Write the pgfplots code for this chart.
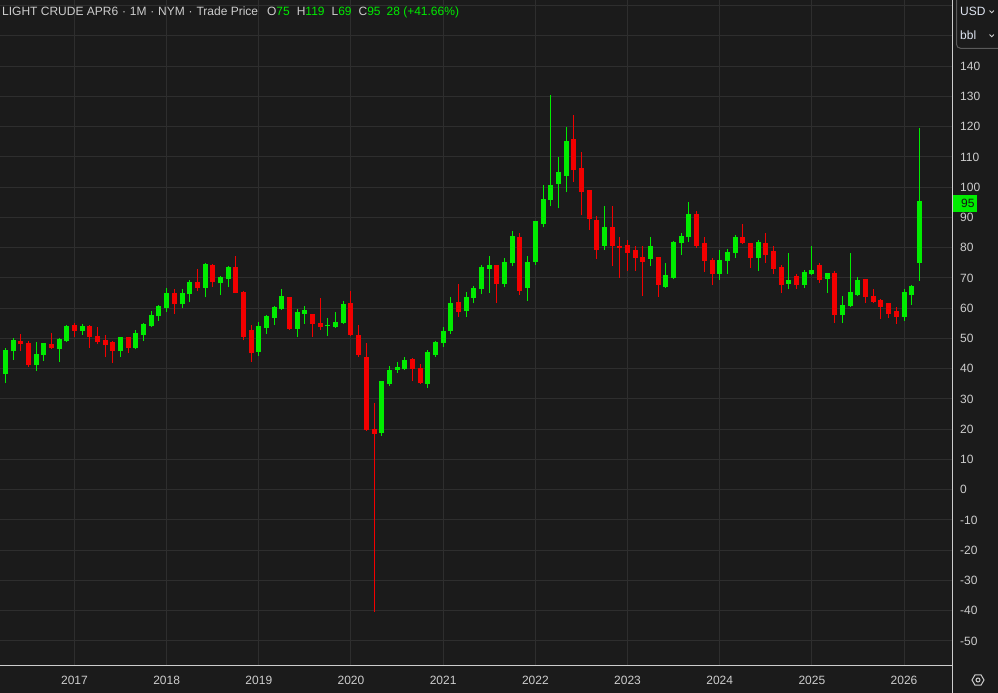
\documentclass[border=0pt]{standalone}
\usepackage{pgfplots}
\pgfplotsset{compat=1.18}
\usepackage{pgfplotstable}
\usepackage{fontspec}
\setmainfont{Liberation Sans}

\definecolor{bg}{RGB}{27,27,27}
\definecolor{gridc}{RGB}{46,46,46}
\definecolor{upg}{RGB}{0,236,0}
\definecolor{dnr}{RGB}{242,0,0}
\definecolor{txt}{RGB}{205,205,205}
\definecolor{edge}{RGB}{205,205,205}
\definecolor{boxc}{RGB}{90,90,90}

% monthly candles, m = months since Jan 2017
\pgfplotstableread{
m O H L C
-9 38.3 46.8 35.2 45.9
-8 45.7 50.2 42.9 49.2
-5 41.2 48.8 39.3 44.6
-4 44.6 48.4 42.6 48.2
-2 46.6 50.0 42.3 49.5
-1 49.0 54.5 48.9 53.9
1 52.6 54.8 51.2 53.9
6 45.8 50.4 44.0 50.2
8 46.9 52.9 46.4 51.6
9 51.3 55.1 49.2 54.5
10 54.2 59.1 53.9 57.5
11 57.3 61.0 55.9 60.4
12 60.0 66.6 58.8 64.8
14 61.3 66.4 59.9 64.8
15 64.7 69.4 61.9 68.4
17 66.8 74.8 63.6 74.2
19 68.2 70.5 64.4 69.9
20 69.5 74.0 67.0 73.4
24 45.6 55.5 44.2 53.8
25 53.5 57.9 51.5 57.1
26 56.8 60.8 54.5 60.1
27 59.8 66.4 59.4 63.8
29 53.2 59.8 50.5 58.5
30 58.1 60.8 54.8 59.1
33 54.0 56.8 50.8 54.3
34 53.8 58.8 53.6 55.1
35 55.1 62.5 54.8 61.1
40 18.7 35.5 17.9 35.5
41 34.9 40.9 34.2 39.2
42 39.6 42.2 38.6 40.2
43 39.9 43.8 39.5 42.5
46 34.9 46.2 33.6 45.2
47 44.5 49.2 44.0 48.5
48 48.4 53.8 47.3 52.2
49 52.4 63.8 51.6 61.5
51 59.1 65.5 57.2 63.5
52 63.5 67.4 61.6 66.4
53 66.4 74.3 64.6 73.4
54 73.1 77.1 65.1 74.1
56 68.1 76.6 66.9 75.1
57 74.8 85.4 74.0 83.7
59 66.8 77.4 62.5 75.1
60 75.4 88.4 74.3 88.4
61 88.0 100.7 86.7 95.7
62 95.7 130.6 93.7 100.3
63 101.0 110.0 93.0 104.7
64 103.7 119.9 98.3 114.9
69 80.7 93.7 79.3 86.7
75 76.4 83.7 74.1 80.1
77 67.1 75.1 66.8 70.8
78 70.1 82.1 69.5 81.7
79 81.4 85.0 77.7 83.7
80 83.4 95.0 82.0 90.7
84 71.4 79.4 69.4 75.7
85 75.7 79.7 71.4 78.4
86 78.1 84.1 76.7 83.1
89 76.7 82.7 72.4 81.7
93 68.1 78.4 66.4 69.1
95 67.8 72.6 66.8 71.8
96 71.4 80.7 71.0 72.4
98 69.8 71.4 65.1 71.4
100 57.8 64.1 55.1 60.8
101 60.8 78.4 60.4 65.1
102 64.4 70.4 64.0 69.1
108 57.1 66.4 55.8 65.1
109 64.4 67.8 61.1 67.1
110 75.0 119.5 69.0 95.0
}\upcandles

\pgfplotstableread{
m O H L C
-7 48.9 51.6 45.8 48.0
-6 48.2 49.2 40.6 41.3
-3 48.0 51.9 46.5 46.8
0 54.1 55.1 50.6 52.6
2 53.8 54.6 46.9 50.4
3 50.5 53.8 48.0 48.8
4 49.2 51.3 43.8 47.9
5 48.4 49.2 42.0 45.8
7 50.2 50.6 45.2 46.9
13 64.8 66.4 58.1 61.3
16 68.4 72.8 65.6 66.8
18 73.9 74.7 67.0 68.6
21 73.4 77.2 64.9 65.1
22 64.9 65.6 49.4 50.5
23 52.6 54.5 42.3 45.1
28 63.4 63.8 52.9 53.2
31 57.8 57.9 50.5 54.8
32 54.8 63.5 52.8 53.8
36 61.5 65.8 50.8 51.2
37 50.8 54.5 43.9 44.5
38 43.5 48.5 19.4 19.8
39 19.8 28.8 -40.3 18.5
44 42.9 43.5 35.9 39.9
45 39.9 41.5 34.9 35.2
50 61.8 68.1 57.1 58.8
55 74.1 74.3 61.8 68.1
58 83.4 85.0 64.4 65.8
65 115.6 123.9 101.7 105.6
66 106.0 111.6 90.7 98.3
67 98.7 98.7 85.8 89.5
68 89.0 90.4 76.4 79.2
70 86.4 93.7 73.8 80.4
71 80.4 83.4 70.1 80.0
72 80.7 82.7 72.4 78.4
73 79.1 80.7 72.4 76.7
74 76.7 80.7 64.1 75.4
76 76.7 77.0 63.8 67.8
81 91.0 92.0 80.0 80.7
82 81.4 83.7 72.1 75.7
83 75.7 76.7 67.8 71.4
87 83.1 87.7 81.1 81.7
88 81.4 81.7 73.4 76.7
90 81.4 84.7 74.9 77.7
91 78.7 80.5 71.3 73.1
92 73.4 74.4 65.1 67.8
94 70.4 71.4 66.4 67.8
97 74.1 75.1 68.4 69.4
99 71.4 72.4 55.1 57.8
103 69.4 69.4 61.8 63.8
104 63.8 66.4 61.8 62.1
105 62.5 63.1 56.5 60.5
106 61.5 61.5 56.8 58.1
107 58.8 60.5 54.8 57.1
}\downcandles

\begin{document}
\begin{tikzpicture}
\fill[bg] (0bp,0bp) rectangle (998bp,693bp);
\begin{axis}[
  at={(0bp,27bp)}, anchor=south west,
  width=952bp, height=666bp, scale only axis,
  xmin=2016.1917, xmax=2026.5205,
  ymin=-58.3, ymax=161.9,
  axis line style={draw=none},
  grid=major,
  major grid style={draw=gridc, line width=1bp},
  major tick length=0pt,
  xtick={2017,2018,...,2026},
  xticklabels={2017,2018,2019,2020,2021,2022,2023,2024,2025,2026},
  ytick={-50,-40,...,160},
  yticklabels={-50,-40,-30,-20,-10,0,10,20,30,40,50,60,70,80,90,100,110,120,130,140,{},{}},
  yticklabel pos=right,
  tick label style={font=\fontsize{12bp}{14bp}\selectfont, text=txt, inner sep=0pt},
  yticklabel style={anchor=west, xshift=8bp},
  xticklabel style={anchor=base, yshift=-18bp},
  candle/.style={forget plot, draw=none, mark=none,
    error bars/.cd, y dir=plus, y explicit, error mark=none},
]
% wicks
\addplot[candle, error bar style={line width=1bp, draw=upg}]
  table[x expr=2017+\thisrow{m}/12, y=L, y error plus expr=\thisrow{H}-\thisrow{L}] {\upcandles};
\addplot[candle, error bar style={line width=1bp, draw=dnr}]
  table[x expr=2017+\thisrow{m}/12, y=L, y error plus expr=\thisrow{H}-\thisrow{L}] {\downcandles};
% bodies
\addplot[candle, error bar style={line width=5bp, draw=upg}]
  table[x expr=2017+\thisrow{m}/12, y=O, y error plus expr=\thisrow{C}-\thisrow{O}+0.3] {\upcandles};
\addplot[candle, error bar style={line width=5bp, draw=dnr}]
  table[x expr=2017+\thisrow{m}/12, y=C, y error plus expr=\thisrow{O}-\thisrow{C}+0.3] {\downcandles};
\end{axis}
% axis edges
\draw[edge, line width=1bp] (0bp,27bp) -- (952bp,27bp);
\draw[edge, line width=1bp] (952bp,0bp) -- (952bp,693bp);
% price tag at 95
\node[anchor=west, inner sep=0pt, fill=upg, text={rgb,255:red,20;green,20;blue,20},
  minimum height=16.4bp, minimum width=24bp, font=\fontsize{12bp}{14bp}\selectfont]
  at (953bp,{693bp-203.5bp}) {\hspace*{8bp}95\hspace*{2.7bp}};
% title
\node[anchor=base west, inner sep=0pt, text=txt, font=\fontsize{12bp}{14bp}\selectfont]
  at (2bp,677bp) {LIGHT CRUDE APR6\hspace{0.5bp} · \hspace{0.5bp}1M\hspace{0.5bp} · \hspace{0.5bp}NYM\hspace{0.5bp} · \hspace{0.5bp}Trade Price\hspace{9bp}O{\color{upg}75}\hspace{7bp}H{\color{upg}119}\hspace{7bp}L{\color{upg}69}\hspace{7bp}C{\color{upg}95}\hspace{6bp}{\color{upg}28 (+41.66\%)}};
% unit box
\fill[bg] (956bp,645bp) rectangle (1000bp,695bp);
\draw[boxc, line width=1bp, rounded corners=4bp] (1004bp,644.7bp) -- (956.5bp,644.7bp) -- (956.5bp,700bp);
\node[anchor=west, inner sep=0pt, text={rgb,255:red,222;green,228;blue,240}, font=\fontsize{12bp}{14bp}\selectfont] at (960bp,681.3bp) {USD};
\node[anchor=west, inner sep=0pt, text={rgb,255:red,222;green,228;blue,240}, font=\fontsize{12bp}{14bp}\selectfont] at (960bp,657.3bp) {bbl};
\draw[txt, line width=0.9bp] (989.5bp,682.5bp) -- (991.7bp,680.3bp) -- (993.9bp,682.5bp);
\draw[txt, line width=0.9bp] (989.5bp,658.5bp) -- (991.7bp,656.3bp) -- (993.9bp,658.5bp);
% settings icon
\draw[txt, line width=1bp] (978bp,13bp) +(0:6bp) -- +(60:6bp) -- +(120:6bp) -- +(180:6bp) -- +(240:6bp) -- +(300:6bp) -- cycle;
\draw[txt, line width=1bp] (978bp,13bp) circle (2bp);
\pgfresetboundingbox
\path (0bp,0bp) rectangle (998bp,693bp);
\end{tikzpicture}
\end{document}
